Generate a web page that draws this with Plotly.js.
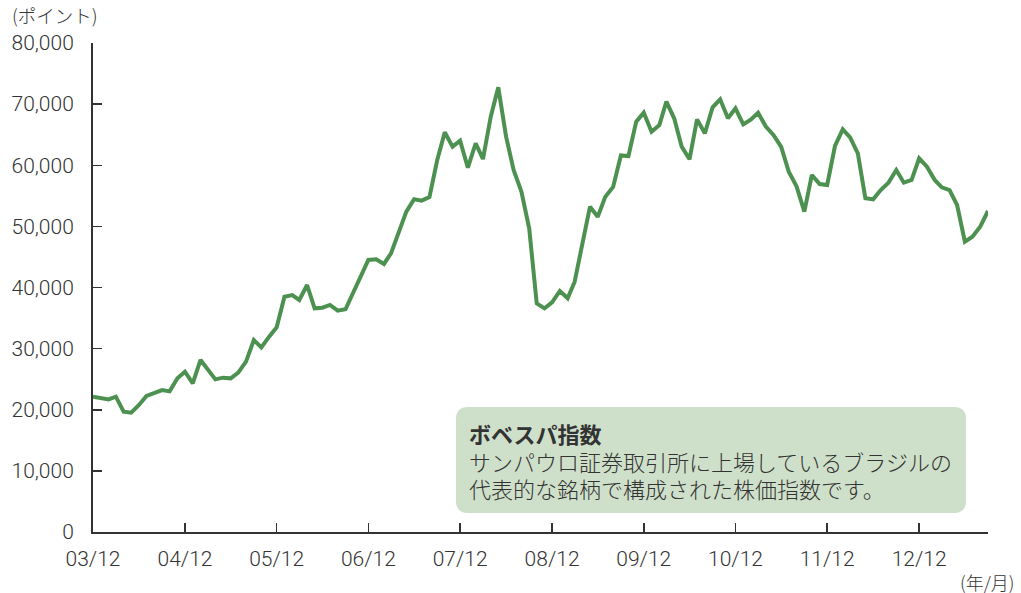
<!DOCTYPE html>
<html>
<head>
<meta charset="utf-8">
<script src="https://cdn.plot.ly/plotly-3.0.1.min.js"></script>
<style>
html,body{margin:0;padding:0;background:#fff;}
#chart{width:1021px;height:593px;}
</style>
</head>
<body>
<div id="chart"></div>
<script>
// Monthly values, 2003/12 .. 2013/09
const startYear = 2003;
const startMonth = 12;
const bovespa = [
  22140, 21870, 21700, 22140, 19690, 19520, 20780, 22250, 22790, 23230, 23010, 25140,
  26230, 24320, 28140, 26610, 24970, 25250, 25140, 26070, 27870, 31410, 30210, 31960,
  33480, 38500, 38770, 37960, 40410, 36590, 36700, 37140, 36210, 36430, 39050, 41770,
  44500, 44610, 43850, 45590, 48860, 52410, 54430, 54210, 54800, 60860, 65390, 63040,
  64020, 59600, 63590, 61020, 67950, 72750, 64680, 59220, 55680, 49680, 37410, 36590,
  37580, 39430, 38230, 40950, 47230, 53220, 51580, 54860, 56450, 61600, 61510, 67130,
  68600, 65490, 66580, 70400, 67680, 63040, 60970, 67510, 65220, 69480, 70790, 67680,
  69310, 66690, 67510, 68600, 66310, 64950, 63000, 58950, 56550, 52410, 58410, 56930,
  56770, 63150, 65880, 64570, 61950, 54590, 54430, 55950, 57150, 59220, 57150, 57590,
  61130, 59770, 57590, 56390, 55950, 53500, 47500, 48310, 49950, 52520
];
const tickDates = ["2003-12-01","2004-12-01","2005-12-01","2006-12-01","2007-12-01","2008-12-01","2009-12-01","2010-12-01","2011-12-01","2012-12-01"];
const tickLabels = ["03/12","04/12","05/12","06/12","07/12","08/12","09/12","10/12","11/12","12/12"];
const yTicks = [0,10000,20000,30000,40000,50000,60000,70000,80000];
const yUnit = "(ポイント)";
const xUnit = "(年/月)";
const boxTitle = "ボベスパ指数";
const boxText = ["サンパウロ証券取引所に上場しているブラジルの", "代表的な銘柄で構成された株価指数です。"];

const months = bovespa.map((v, i) => {
  const m0 = (startMonth - 1) + i;
  const y = startYear + Math.floor(m0 / 12);
  const m = (m0 % 12) + 1;
  return y + "-" + String(m).padStart(2, "0") + "-01";
});

const FONT = "Roboto, Liberation Sans, Noto Sans CJK JP, sans-serif";
const JFONT = "Noto Sans CJK JP, sans-serif";
const TXT = "#333333";

const trace = {
  x: months, y: bovespa, type: "scatter", mode: "lines",
  line: {color: "#4d9150", width: 4, shape: "linear"},
  hoverinfo: "skip"
};

// rounded box geometry (paper units)
const plotW = 1021 - 93 - 33, plotH = 593 - 43 - 61;
const bx0 = (456 - 93) / plotW, bx1 = (966 - 93) / plotW;
const by1 = (532 - 407) / plotH, by0 = (532 - 513) / plotH;
const rx = 12 / plotW, ry = 12 / plotH;
const boxPath = `M ${bx0+rx},${by1} L ${bx1-rx},${by1} Q ${bx1},${by1} ${bx1},${by1-ry} L ${bx1},${by0+ry} Q ${bx1},${by0} ${bx1-rx},${by0} L ${bx0+rx},${by0} Q ${bx0},${by0} ${bx0},${by0+ry} L ${bx0},${by1-ry} Q ${bx0},${by1} ${bx0+rx},${by1} Z`;

const textX = (467 - 93) / plotW;
const lineYs = [433, 461, 488];
const boxLines = [
  {text: boxTitle, weight: 700},
  {text: boxText[0], weight: 300},
  {text: boxText[1], weight: 300}
];
const boxAnnotations = boxLines.map((l, k) => ({
  xref: "paper", yref: "paper", x: textX, y: (532 - lineYs[k]) / plotH,
  xanchor: "left", yanchor: "middle", align: "left", showarrow: false,
  text: l.text, font: {family: JFONT, size: 22, color: TXT, weight: l.weight}
}));

const layout = {
  width: 1021, height: 593,
  margin: {l: 93, r: 33, t: 43, b: 61, pad: 0},
  paper_bgcolor: "#ffffff", plot_bgcolor: "#ffffff",
  showlegend: false,
  font: {family: FONT, color: TXT, size: 21},
  xaxis: {
    type: "date",
    range: [months[0], months[months.length - 1]],
    tickvals: tickDates, ticktext: tickLabels,
    ticks: "inside", ticklen: 9, tickwidth: 1.5, tickcolor: TXT,
    showline: true, linecolor: TXT, linewidth: 2,
    showgrid: false, zeroline: false,
    tickfont: {family: FONT, size: 21, color: TXT, weight: 300},
    ticklabelstandoff: 7,
    fixedrange: true
  },
  yaxis: {
    range: [0, 80000],
    tickvals: yTicks, tickformat: ",d",
    ticks: "inside", ticklen: 9, tickwidth: 1.5, tickcolor: TXT,
    showline: true, linecolor: TXT, linewidth: 2,
    showgrid: false, zeroline: false,
    tickfont: {family: FONT, size: 21, color: TXT, weight: 300},
    ticklabelstandoff: 13,
    fixedrange: true
  },
  shapes: [{
    type: "path", xref: "paper", yref: "paper", path: boxPath,
    fillcolor: "#cfe0ca", line: {width: 0}, layer: "below"
  }],
  annotations: [
    {xref: "paper", yref: "paper", x: -83/plotW, y: 1 + 28/plotH, xanchor: "left", yanchor: "middle",
     text: yUnit, showarrow: false, font: {family: JFONT, size: 18.5, color: TXT, weight: 300}},
    {xref: "paper", yref: "paper", x: (1016 - 93)/plotW, y: -(582 - 532)/plotH, xanchor: "right", yanchor: "middle",
     text: xUnit, showarrow: false, font: {family: JFONT, size: 18, color: TXT, weight: 300}}
  ].concat(boxAnnotations)
};

Plotly.newPlot("chart", [trace], layout, {staticPlot: true, displayModeBar: false});
</script>
</body>
</html>
